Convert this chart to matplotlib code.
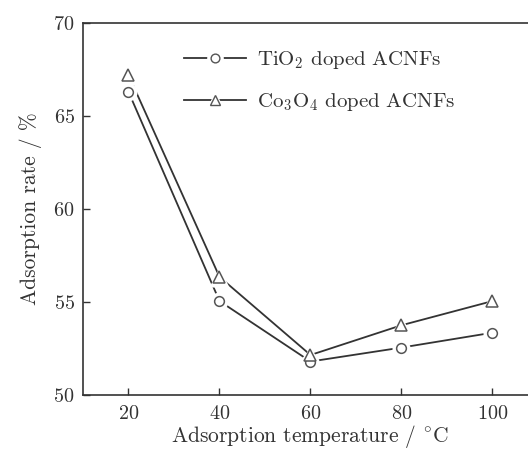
import numpy as np
import matplotlib
matplotlib.use("Agg")
import matplotlib.pyplot as plt
from matplotlib.lines import Line2D
from matplotlib.legend_handler import HandlerTuple

plt.rcParams['font.family'] = ['cmr10', 'DejaVu Serif']
plt.rcParams['mathtext.fontset'] = 'cm'
plt.rcParams['axes.formatter.use_mathtext'] = True

temps = [20, 40, 60, 80, 100]
tio2 = [66.3, 55.05, 51.8, 52.55, 53.35]
co3o4 = [67.2, 56.35, 52.15, 53.75, 55.05]
labels = [r'TiO$_2$ doped ACNFs', r'Co$_3$O$_4$ doped ACNFs']

ink = '#333333'
edge = '#555555'

fig = plt.figure(figsize=(5.28, 4.53), dpi=100)
ax = fig.add_axes([83/528, 58/453, 455/528, 372/453])

handles = []
for ys, mk, ms in [(tio2, 'o', 7), (co3o4, '^', 8.5)]:
    ax.plot(temps, ys, '-', color=ink, lw=1.3, zorder=2)
    ax.plot(temps, ys, mk, ls='none', ms=ms + 6, mfc='white', mec='none', zorder=3)
    ax.plot(temps, ys, mk, ls='none', ms=ms, mfc='white', mec=edge, mew=1.1, zorder=4)
    h = (Line2D([], [], color=ink, lw=1.3),
         Line2D([], [], marker=mk, ls='none', ms=ms + 5, mfc='white', mec='none'),
         Line2D([], [], marker=mk, ls='none', ms=ms * 0.9, mfc='white', mec=edge, mew=1.0))
    handles.append(h)

ax.set_xlim(10, 110)
ax.set_ylim(50, 70)
ax.set_xticks(temps)
ax.set_yticks([50, 55, 60, 65, 70])
ax.tick_params(direction='in', length=5, width=1, colors=ink, labelsize=14.5, pad=7)
ax.tick_params(axis='y', pad=6)
ax.spines['right'].set_visible(False)
for s in ['left', 'bottom', 'top']:
    ax.spines[s].set_color(ink)
    ax.spines[s].set_linewidth(1.2)

ax.set_xlabel(r'Adsorption temperature / $^{\circ}$C', fontsize=15.5, color=ink, labelpad=0)
ax.set_ylabel('Adsorption rate / %', fontsize=15.5, color=ink, labelpad=8)

leg = ax.legend(handles, labels, handler_map={tuple: HandlerTuple(ndivide=1, pad=0)},
                loc='upper left', bbox_to_anchor=(0.18, 0.98), frameon=False,
                fontsize=15, handlelength=3.0, handletextpad=0.5, labelspacing=0.95,
                labelcolor=ink)

fig.savefig('out.png', dpi=100)
